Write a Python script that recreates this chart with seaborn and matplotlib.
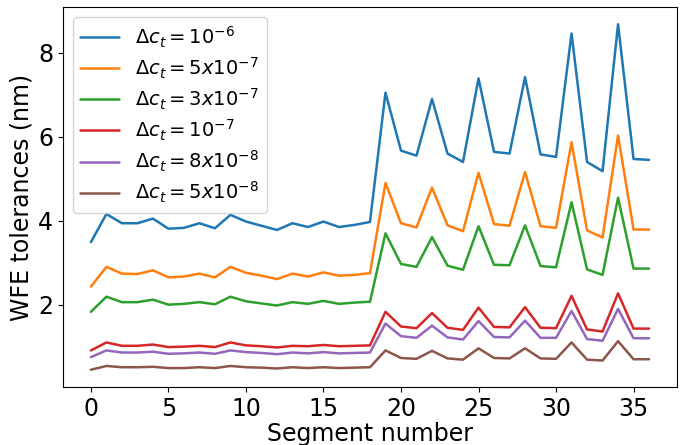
import numpy as np
import pandas as pd
import matplotlib
matplotlib.use("Agg")
import matplotlib.pyplot as plt
import seaborn as sns

segments = list(range(37))

wfe_1e6 = [3.49, 4.16, 3.94, 3.94, 4.05, 3.81, 3.83, 3.94, 3.82, 4.14,
           3.98, 3.88, 3.78, 3.94, 3.85, 3.98, 3.85, 3.90, 3.97,
           7.05, 5.67, 5.55, 6.90, 5.60, 5.40, 7.39, 5.64, 5.60, 7.42,
           5.58, 5.52, 8.46, 5.40, 5.18, 8.68, 5.47, 5.45]
wfe_5e7 = [2.43, 2.90, 2.74, 2.73, 2.82, 2.65, 2.67, 2.74, 2.65, 2.90,
           2.76, 2.69, 2.61, 2.74, 2.67, 2.77, 2.69, 2.71, 2.75,
           4.90, 3.94, 3.84, 4.79, 3.89, 3.75, 5.14, 3.92, 3.88, 5.16,
           3.87, 3.83, 5.87, 3.77, 3.60, 6.03, 3.79, 3.79]
wfe_3e7 = [1.83, 2.19, 2.06, 2.06, 2.12, 2.00, 2.02, 2.06, 2.01, 2.19,
           2.08, 2.03, 1.98, 2.06, 2.02, 2.09, 2.02, 2.05, 2.07,
           3.70, 2.97, 2.90, 3.61, 2.93, 2.83, 3.87, 2.95, 2.94, 3.89,
           2.92, 2.89, 4.44, 2.84, 2.71, 4.55, 2.86, 2.86]
wfe_1e7 = [0.91, 1.10, 1.02, 1.02, 1.05, 0.99, 1.00, 1.02, 0.99, 1.10,
           1.03, 1.01, 0.98, 1.02, 1.01, 1.04, 1.01, 1.02, 1.03,
           1.83, 1.48, 1.44, 1.80, 1.45, 1.40, 1.93, 1.47, 1.46, 1.94,
           1.45, 1.44, 2.21, 1.41, 1.36, 2.27, 1.43, 1.43]
wfe_8e8 = [0.75, 0.91, 0.86, 0.86, 0.88, 0.83, 0.84, 0.86, 0.83, 0.91,
           0.87, 0.85, 0.82, 0.86, 0.84, 0.87, 0.84, 0.85, 0.86,
           1.55, 1.25, 1.21, 1.50, 1.22, 1.17, 1.61, 1.23, 1.22, 1.62,
           1.21, 1.21, 1.85, 1.18, 1.14, 1.90, 1.20, 1.20]
wfe_5e8 = [0.45, 0.54, 0.51, 0.51, 0.52, 0.49, 0.49, 0.51, 0.49, 0.54,
           0.51, 0.50, 0.48, 0.51, 0.49, 0.51, 0.49, 0.50, 0.51,
           0.91, 0.73, 0.71, 0.90, 0.72, 0.69, 0.96, 0.73, 0.72, 0.96,
           0.72, 0.71, 1.10, 0.69, 0.67, 1.13, 0.70, 0.70]

labels = [r'$\Delta c_t = 10^{-6}$', r'$\Delta c_t = 5x10^{-7}$',
          r'$\Delta c_t = 3x10^{-7}$', r'$\Delta c_t = 10^{-7}$',
          r'$\Delta c_t = 8x10^{-8}$', r'$\Delta c_t = 5x10^{-8}$']
series = [wfe_1e6, wfe_5e7, wfe_3e7, wfe_1e7, wfe_8e8, wfe_5e8]

frames = []
for lab, vals in zip(labels, series):
    frames.append(pd.DataFrame({"segment": segments, "wfe": vals, "case": lab}))
df = pd.concat(frames, ignore_index=True)

sns.set_style("white", rc={
    "axes.edgecolor": "black",
    "text.color": "black",
    "axes.labelcolor": "black",
    "xtick.color": "black",
    "ytick.color": "black",
    "xtick.bottom": True,
    "ytick.left": True,
})
plt.rcParams["font.family"] = ["DejaVu Sans"]

fig, ax = plt.subplots(figsize=(6.87, 4.45), dpi=100)
sns.lineplot(data=df, x="segment", y="wfe", hue="case", hue_order=labels,
             palette=sns.color_palette("tab10", 6), linewidth=1.8, ax=ax)
ax.margins(x=0.05, y=0.05)
ax.set_xticks([0, 5, 10, 15, 20, 25, 30, 35])
ax.set_yticks([2, 4, 6, 8])
ax.tick_params(axis="both", labelsize=17, length=3.5, width=0.8, pad=3.5)
ax.set_xlabel("Segment number", fontsize=17, labelpad=1)
ax.set_ylabel("WFE tolerances (nm)", fontsize=17, labelpad=3)
leg = ax.legend(loc="upper left", fontsize=14, frameon=True, handlelength=2.0,
                labelspacing=0.3, borderaxespad=0.5, fancybox=True, framealpha=0.8)
leg.get_frame().set_edgecolor("0.8")
for s in ax.spines.values():
    s.set_color("black")
    s.set_linewidth(0.8)
fig.subplots_adjust(left=0.0917, right=0.9854, top=0.9843, bottom=0.1303)
fig.savefig("out.png", dpi=100)
